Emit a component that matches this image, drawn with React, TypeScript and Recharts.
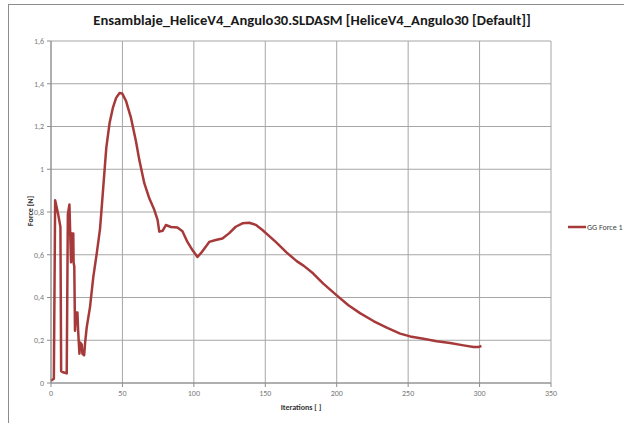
import { LineChart, Line, XAxis, YAxis, CartesianGrid } from 'recharts'

// GG Force 1 over solver iterations
const iterations = [
  0, 1, 2, 2.9, 3.7, 5, 6.6, 7.1, 8.5, 11, 11.8, 12.9, 14, 14.5, 15.6, 15.8, 16.3, 16.8,
  17.5, 18.5, 19, 19.9, 20.4, 21.5, 22, 23.2, 23.9, 25, 27.3, 29.6, 32, 34.3, 36.4, 38.7,
  41, 43.3, 45.6, 48, 49.8, 52.6, 56, 59.5, 61.8, 65.3, 68.8, 72.3, 74.6, 75.8, 78.1,
  80.4, 83.9, 88.5, 92, 95.5, 99, 102.5, 104.8, 108.3, 110.7, 115.3, 120, 124.6, 129.3,
  134, 138.7, 143.3, 148, 152.6, 157.3, 165, 172, 177, 183.6, 190.6, 200, 208.2, 216.3,
  225.7, 235, 244.4, 251.4, 260.7, 270, 279.4, 288.8, 295.8, 299, 301.3,
]
const force = [
  0.01, 0.015, 0.02, 0.855, 0.83, 0.79, 0.73, 0.055, 0.05, 0.045, 0.79, 0.835, 0.565, 0.7,
  0.7, 0.565, 0.545, 0.245, 0.33, 0.33, 0.245, 0.137, 0.19, 0.18, 0.137, 0.13, 0.19, 0.26,
  0.355, 0.495, 0.605, 0.72, 0.9, 1.1, 1.216, 1.287, 1.334, 1.357, 1.355, 1.318, 1.24,
  1.13, 1.044, 0.935, 0.864, 0.81, 0.763, 0.708, 0.712, 0.739, 0.73, 0.727, 0.71, 0.66,
  0.622, 0.59, 0.606, 0.637, 0.66, 0.669, 0.676, 0.7, 0.731, 0.747, 0.75, 0.74, 0.716,
  0.688, 0.66, 0.61, 0.57, 0.548, 0.512, 0.465, 0.41, 0.364, 0.327, 0.29, 0.259, 0.231,
  0.218, 0.207, 0.195, 0.187, 0.176, 0.168, 0.168, 0.173,
]
const xTicks = [0, 50, 100, 150, 200, 250, 300, 350]
const yTicks = [0, 0.2, 0.4, 0.6, 0.8, 1, 1.2, 1.4, 1.6]

const title = 'Ensamblaje_HeliceV4_Angulo30.SLDASM [HeliceV4_Angulo30 [Default]]'
const seriesName = 'GG Force 1'

const LINE = '#a63a3a'
const FONT = 'Carlito, Lato, "Liberation Sans", sans-serif'

const data = iterations.map((it, i) => ({ it, f: force[i] }))

const tickStyle = { fontSize: 8, fill: '#7a7a7a', fontFamily: FONT }

export default function App() {
  return (
    <div style={{ position: 'absolute', left: 0, top: 0, width: 624, height: 423, overflow: 'hidden', background: '#fff' }}>
      <div style={{ position: 'absolute', left: 8, top: 4, width: 700, height: 500, borderLeft: '1px solid #8c8c8c', borderTop: '1px solid #8c8c8c' }} />
      <div style={{ position: 'absolute', left: 0, top: 11, width: 624, textAlign: 'center', fontFamily: FONT, fontWeight: 700, fontSize: 14.6, color: '#1a1a1a' }}>
        {title}
      </div>
      <div
        style={{
          position: 'absolute', left: 30, top: 211, transform: 'translate(-50%, -50%) rotate(-90deg)',
          fontFamily: FONT, fontWeight: 700, fontSize: 8, color: '#333', whiteSpace: 'nowrap',
        }}
      >
        Force [N]
      </div>
      <div style={{ position: 'absolute', left: 0, width: 602, top: 402, textAlign: 'center', fontFamily: FONT, fontWeight: 700, fontSize: 8, color: '#333' }}>
        Iterations [ ]
      </div>
      <LineChart width={624} height={423} data={data} margin={{ top: 41, right: 73, bottom: 20, left: 11 }} style={{ position: 'absolute', left: 0, top: 0 }}>
        <CartesianGrid stroke="#a6a6a6" strokeWidth={1} />
        <XAxis
          dataKey="it"
          type="number"
          domain={[0, 350]}
          ticks={xTicks}
          interval={0}
          height={20}
          tick={tickStyle}
          tickSize={4}
          tickMargin={3}
          stroke="#8c8c8c"
        />
        <YAxis
          type="number"
          domain={[0, 1.6]}
          ticks={yTicks}
          interval={0}
          width={40}
          tick={tickStyle}
          tickSize={4}
          tickMargin={3}
          stroke="#8c8c8c"
          tickFormatter={(v: number) => String(Math.round(v * 10) / 10).replace('.', ',')}
        />
        <Line
          dataKey="f"
          name={seriesName}
          type="linear"
          stroke={LINE}
          strokeWidth={2.5}
          strokeLinejoin="round"
          dot={false}
          isAnimationActive={false}
        />
      </LineChart>
      {/* legend entry, sitting to the right of the plot */}
      <div style={{ position: 'absolute', left: 568, top: 222, display: 'flex', alignItems: 'center', fontFamily: FONT, fontSize: 8, color: '#404040', whiteSpace: 'nowrap' }}>
        <svg width={18} height={6} style={{ marginRight: 1 }}>
          <line x1={0} y1={3} x2={18} y2={3} stroke={LINE} strokeWidth={2.5} />
        </svg>
        {seriesName}
      </div>
    </div>
  )
}
